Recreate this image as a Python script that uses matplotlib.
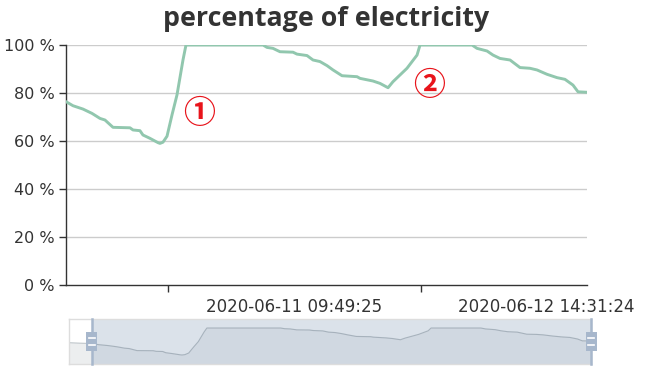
import matplotlib
matplotlib.use("Agg")
import matplotlib.pyplot as plt
import pandas as pd
from matplotlib.patches import Rectangle

# ---------------- data ----------------
base_time = pd.Timestamp("2020-06-10 08:00:00")
hours = [-2.72, -1.5, 0, 0.79, 1.93, 2.95, 3.86, 4.42, 5.33, 7.26,
         7.6, 8.39, 8.73, 9.53, 10.44, 10.66, 11.0, 11.46, 12.02, 12.59,
         13.27, 13.61, 22.35, 22.8, 23.48, 24.27, 25.75, 26.2, 27.34, 28.02,
         28.81, 29.61, 30.29, 31.31, 33.01, 33.35, 34.82, 35.62, 36.53, 37.09,
         38.68, 39.82, 40.16, 46.06, 46.62, 47.76, 48.44, 49.23, 50.37, 51.5,
         52.63, 53.43, 54.56, 55.7, 56.6, 57.51, 58.08, 59.1]
percent = [77.7, 77, 76.4, 74.7, 73.3, 71.5, 69.4, 68.75, 65.7, 65.5,
           64.6, 64.3, 62.5, 61.1, 59.3, 59.0, 59.5, 62.0, 70.8, 79.2,
           93.75, 100, 100, 99, 98.6, 97.2, 97, 96.2, 95.6, 93.75,
           93.1, 91.4, 89.6, 87.2, 86.8, 86.1, 85, 84, 82.2, 84.7,
           90.3, 95.8, 100, 100, 98.6, 97.5, 95.8, 94.4, 93.75, 90.6,
           90.3, 89.6, 87.8, 86.4, 85.7, 83.3, 80.5, 80.3]
tick_label_times = ["2020-06-11 09:49:25", "2020-06-12 14:31:24"]
tick_mark_hours = [11.57, 40.27]
y_ticks = [0, 20, 40, 60, 80, 100]
y_tick_labels = ["0 %", "20 %", "40 %", "60 %", "80 %", "100 %"]
notes = ["①", "②"]
note_hours = [15.09, 41.18]
note_values = [71.25, 82.9]
view_start, view_end = 0.0, 59.1
full_start = -2.72

label_hours = [(pd.Timestamp(t) - base_time) / pd.Timedelta(hours=1) for t in tick_label_times]

# ---------------- figure ----------------
W, H = 652, 375
fig = plt.figure(figsize=(W / 100, H / 100), dpi=100)
fig.patch.set_facecolor("white")

def frac(x0, x1, ytop, ybot):
    return [x0 / W, 1 - ybot / H, (x1 - x0) / W, (ybot - ytop) / H]

TXT = "#333333"
ax = fig.add_axes(frac(66, 587, 45, 285))
ax.plot(hours, percent, color="#91c7ae", lw=2.1, solid_joinstyle="round", zorder=3)
ax.set_xlim(view_start, view_end)
ax.set_ylim(0, 100)
ax.set_yticks(y_ticks)
ax.set_yticklabels(y_tick_labels, fontsize=11.5, color=TXT, family="DejaVu Sans")
for v in y_ticks[1:]:
    ax.axhline(v, color="#cccccc", lw=1, zorder=1)
for s in ("top", "right"):
    ax.spines[s].set_visible(False)
for s in ("left", "bottom"):
    ax.spines[s].set_color(TXT)
    ax.spines[s].set_linewidth(1)
ax.tick_params(axis="y", length=5, width=1, color=TXT, pad=3)
ax.set_xticks(tick_mark_hours)
ax.set_xticklabels([])
ax.tick_params(axis="x", which="major", length=5, width=1, color=TXT)
ax.set_xticks(label_hours, minor=True)
ax.set_xticklabels(tick_label_times, minor=True, fontsize=12, color=TXT, family="DejaVu Sans")
ax.tick_params(axis="x", which="minor", length=0, pad=9)

for t, hx, vy in zip(notes, note_hours, note_values):
    ax.text(hx, vy, t, color="#e8141b", fontsize=23, fontweight="bold",
            family=["Noto Sans CJK SC", "DejaVu Sans"], ha="center", va="center", zorder=4)

fig.text(326 / W, 1 - 19 / H, "percentage of electricity", ha="center", va="center",
         fontsize=19.3, fontweight="bold", family=["Open Sans", "DejaVu Sans"], color=TXT)

# ---------------- slider (data zoom) ----------------
ax2 = fig.add_axes(frac(69, 591, 319, 364))
ax2.set_xlim(full_start, view_end)
ax2.set_ylim(45.3, 113.7)
ax2.fill_between(hours, percent, 45.3, color="#2f4554", alpha=0.09, lw=0)
ax2.plot(hours, percent, color="#2f4554", alpha=0.3, lw=0.8)
ax2.axvspan(view_start, view_end, color="#a7b7cc", alpha=0.4, lw=0)
ax2.set_xticks([])
ax2.set_yticks([])
for s in ax2.spines.values():
    s.set_color("#dddddd")
    s.set_linewidth(1)
tr = ax2.get_xaxis_transform()
px_h = (view_end - full_start) / 522.0
for hx in (view_start, view_end):
    ax2.plot([hx, hx], [0, 1], transform=tr, color="#a7b7cc", lw=1.8, clip_on=False, zorder=5)
    ax2.add_patch(Rectangle((hx - 5.5 * px_h, 0.29), 11 * px_h, 0.42, transform=tr,
                            facecolor="#a7b7cc", edgecolor="none", clip_on=False, zorder=6))
    for yy in (0.57, 0.43):
        ax2.plot([hx - 3.3 * px_h, hx + 3.3 * px_h], [yy, yy], transform=tr,
                 color="white", lw=1.2, clip_on=False, zorder=7)

fig.savefig("out.png", dpi=100)
